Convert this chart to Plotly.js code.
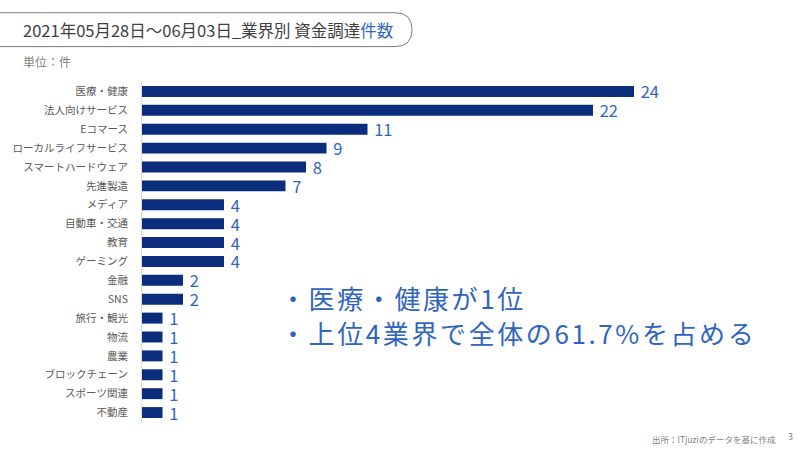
<!DOCTYPE html>
<html><head><meta charset="utf-8">
<script src="https://cdn.plot.ly/plotly-3.0.1.min.js"></script>
<style>html,body{margin:0;padding:0;background:#fff;}#chart{width:800px;height:450px;}</style>
</head><body><div id="chart"></div>
<script>
const categories = ["医療・健康","法人向けサービス","Eコマース","ローカルライフサービス","スマートハードウェア","先進製造","メディア","自動車・交通","教育","ゲーミング","金融","SNS","旅行・観光","物流","農業","ブロックチェーン","スポーツ関連","不動産"];
const counts = [24,22,11,9,8,7,4,4,4,4,2,2,1,1,1,1,1,1];
const titleMain = "2021年05月28日～06月03日_業界別 資金調達";
const titleAccent = "件数";
const unitLabel = "単位：件";
const notes = ["・医療・健康が1位","・上位4業界で全体の61.7%を占める"];
const sourceText = "出所：ITjuziのデータを基に作成";
const pageNo = "3";

const W=800,H=450,L=142,R=757,T=81.5,B=422.5;
const px=x=>(x-L)/(R-L), py=y=>(B-y)/(B-T);
const font="'Noto Sans CJK JP', 'Noto Sans', sans-serif";
const blue="#2f65c0";

const x0=-10,x1=412,y0=12,y1=46,r=17;
const path=`M ${px(x0)},${py(y0)} L ${px(x1-r)},${py(y0)} Q ${px(x1)},${py(y0)} ${px(x1)},${py((y0+y1)/2)} Q ${px(x1)},${py(y1)} ${px(x1-r)},${py(y1)} L ${px(x0)},${py(y1)}`;

const trace={
  type:'bar',orientation:'h',
  x:counts,y:categories,
  marker:{color:'#0b2d7e'},
  text:counts.map(v=>'<span style="letter-spacing:0px"> </span>'+v),textposition:'outside',constraintext:'none',
  textfont:{family:font,size:16.5,color:blue},
  cliponaxis:false,hoverinfo:'none'
};
const ls=(t,s)=>`<span style="letter-spacing:${s}px">${t}</span>`;
const layout={
  width:W,height:H,
  margin:{l:L,r:W-R,t:T,b:H-B,pad:0},
  paper_bgcolor:'#fff',plot_bgcolor:'#fff',
  showlegend:false,bargap:0.42,
  font:{family:font},
  xaxis:{range:[0,30],visible:false,fixedrange:true},
  yaxis:{autorange:'reversed',showline:true,linecolor:'#d9d9d9',linewidth:1,showgrid:false,zeroline:false,
    ticks:'outside',ticklen:11,tickcolor:'rgba(0,0,0,0)',tickfont:{family:font,size:10.5,color:'#595959'}},
  shapes:[{type:'path',xref:'paper',yref:'paper',path:path,line:{color:'#7f7f7f',width:1},fillcolor:'rgba(0,0,0,0)'}],
  annotations:[
    {xref:'paper',yref:'paper',x:px(21),y:py(29),xanchor:'left',yanchor:'middle',showarrow:false,
     text:`<span style="color:#404040">${titleMain}</span><span style="color:${blue}">${titleAccent}</span>`,
     font:{family:font,size:16.5,color:'#404040'}},
    {xref:'paper',yref:'paper',x:px(21),y:py(61),xanchor:'left',yanchor:'middle',showarrow:false,
     text:unitLabel,font:{family:font,size:12,color:'#7f7f7f'}},
    {xref:'paper',yref:'paper',x:px(278),y:py(298),xanchor:'left',yanchor:'middle',showarrow:false,
     text:ls(notes[0],2.6),font:{family:font,size:26,color:blue}},
    {xref:'paper',yref:'paper',x:px(278),y:py(333),xanchor:'left',yanchor:'middle',showarrow:false,
     text:ls(notes[1],2.6),font:{family:font,size:26,color:blue}},
    {xref:'paper',yref:'paper',x:px(778),y:py(440),xanchor:'right',yanchor:'middle',showarrow:false,
     text:sourceText,font:{family:font,size:8.5,color:'#7f7f7f'}},
    {xref:'paper',yref:'paper',x:px(791),y:py(437),xanchor:'center',yanchor:'middle',showarrow:false,
     text:pageNo,font:{family:font,size:9,color:'#7f7f7f'}}
  ]
};
Plotly.newPlot('chart',[trace],layout,{displayModeBar:false,staticPlot:true});
</script></body></html>
